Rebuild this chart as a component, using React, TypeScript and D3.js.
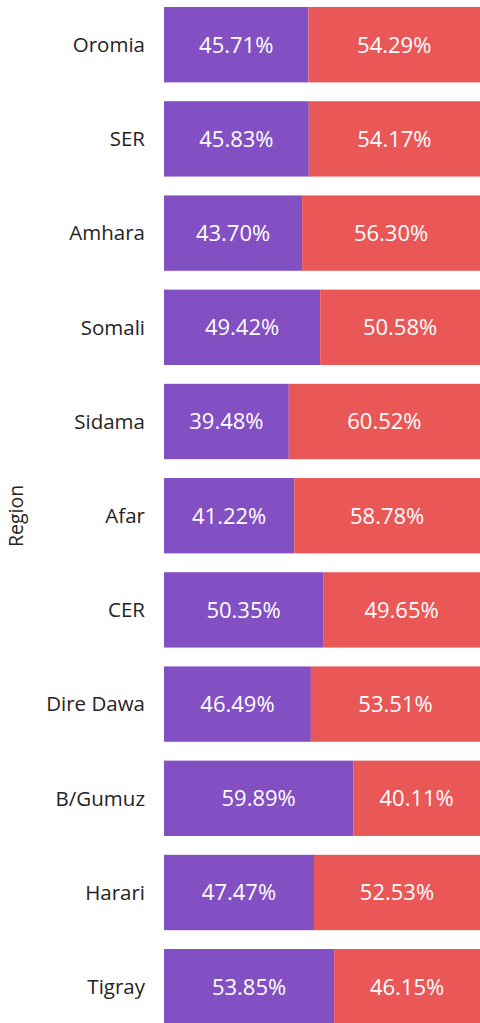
import React from "react";
import * as d3 from "d3";

const regions = ["Oromia", "SER", "Amhara", "Somali", "Sidama", "Afar", "CER", "Dire Dawa", "B/Gumuz", "Harari", "Tigray"];
const seriesA = [45.71, 45.83, 43.7, 49.42, 39.48, 41.22, 50.35, 46.49, 59.89, 47.47, 53.85];
const seriesB = [54.29, 54.17, 56.3, 50.58, 60.52, 58.78, 49.65, 53.51, 40.11, 52.53, 46.15];
const seriesKeys = ["a", "b"];
const colors = ["#8350C3", "#E95757"];

export default function App() {
  const W = 480, H = 1023;
  const x = d3.scaleLinear().domain([0, 100]).range([164, 480]);
  const y = d3.scaleBand<string>().domain(regions).range([-2.4, 1033.8]).paddingInner(0.2).paddingOuter(0.1);
  const rows = regions.map((r, i) => ({ region: r, a: seriesA[i], b: seriesB[i] }));
  const stack = d3.stack<any>().keys(seriesKeys);
  const layers = stack(rows);
  const font = "'Segoe UI', 'Open Sans', 'Noto Sans', sans-serif";
  return (
    <svg width={W} height={H} style={{ position: "absolute", left: 0, top: 0, display: "block" }} fontFamily={font}>
      {layers.map((layer, li) => (
        <g key={li}>
          {layer.map((d, i) => {
            const x0 = x(d[0]), x1 = x(d[1]);
            const yy = y(regions[i])!;
            const val = li === 0 ? seriesA[i] : seriesB[i];
            return (
              <g key={i}>
                <rect x={x0} y={yy} width={x1 - x0} height={y.bandwidth()} fill={colors[li]} />
                <text x={(x0 + x1) / 2} y={yy + y.bandwidth() / 2} dy="0.36em" textAnchor="middle" fill="#fff" fontSize={22}>
                  {val.toFixed(2)}%
                </text>
              </g>
            );
          })}
        </g>
      ))}
      {regions.map((r) => (
        <text key={r} x={145} y={y(r)! + y.bandwidth() / 2} dy="0.36em" textAnchor="end" fill="#252423" fontSize={20.5}>
          {r}
        </text>
      ))}
      <text transform={`translate(23,${516}) rotate(-90)`} textAnchor="middle" fill="#252423" fontSize={19.5}>
        Region
      </text>
    </svg>
  );
}
